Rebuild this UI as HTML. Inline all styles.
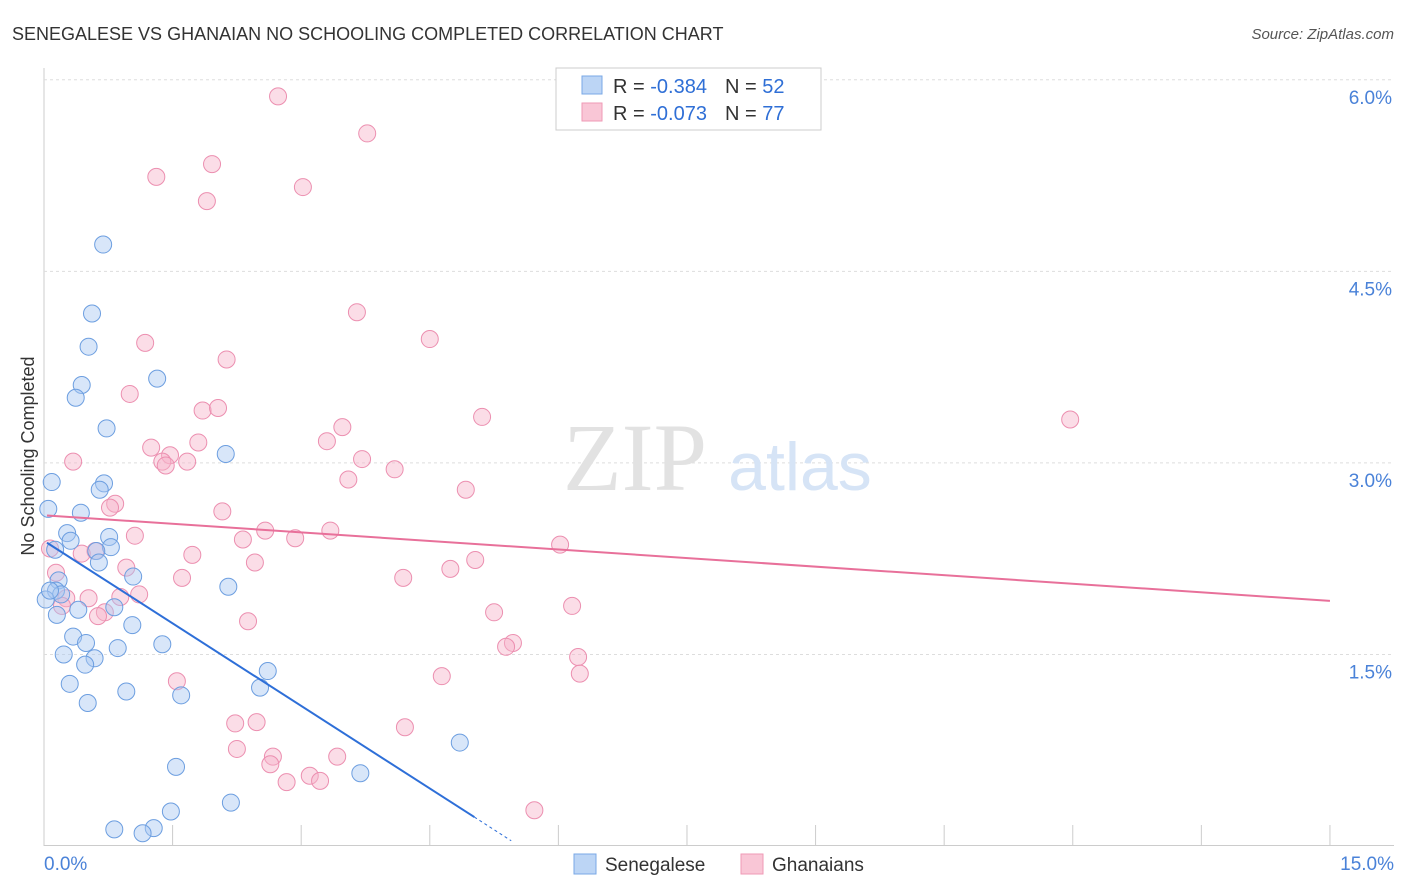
<!DOCTYPE html>
<html><head><meta charset="utf-8"><style>
body{margin:0;background:#fff;font-family:"Liberation Sans",sans-serif;}
svg{display:block}
</style></head><body>
<svg id="chart" width="1406" height="892">
<text x="12" y="40" font-size="18" fill="#333">SENEGALESE VS GHANAIAN NO SCHOOLING COMPLETED CORRELATION CHART</text>
<text x="1394" y="39" font-size="15" fill="#555" font-style="italic" text-anchor="end">Source: ZipAtlas.com</text>
<text transform="translate(34,456) rotate(-90)" font-size="18" fill="#333" text-anchor="middle">No Schooling Completed</text>
<g id="grid"></g>
<g>
<text x="635" y="490" font-size="96" font-family="Liberation Serif,serif" fill="#e2e2e2" text-anchor="middle">ZIP</text>
<text x="800" y="490" font-size="68" fill="#d6e4f6" text-anchor="middle">atlas</text></g>
<g id="marks"></g>
<g>
<rect x="556" y="68" width="265" height="62" fill="#fff" stroke="#ccc"/>
<rect x="582" y="76" width="20" height="18" fill="#bcd5f5" stroke="#7aa8e6"/>
<rect x="582" y="103" width="20" height="18" fill="#f9c6d6" stroke="#ef9ab6"/>
<text x="613" y="93" font-size="20" fill="#333">R = <tspan fill="#2f6fd6">-0.384</tspan><tspan dx="18">N = </tspan><tspan fill="#2f6fd6">52</tspan></text>
<text x="613" y="120" font-size="20" fill="#333">R = <tspan fill="#2f6fd6">-0.073</tspan><tspan dx="18">N = </tspan><tspan fill="#2f6fd6">77</tspan></text>
</g>
<g>
<rect x="574" y="854" width="22" height="20" fill="#bcd5f5" stroke="#7aa8e6"/>
<text x="605" y="871" font-size="19" fill="#333">Senegalese</text>
<rect x="741" y="854" width="22" height="20" fill="#f9c6d6" stroke="#ef9ab6"/>
<text x="772" y="871" font-size="19" fill="#333">Ghanaians</text>
</g>
</svg>
<script>
const blueX=[0.69,0.56,0.52,0.44,1.32,0.37,0.73,2.12,0.09,0.70,0.65,0.05,0.43,0.27,0.31,0.76,0.78,0.13,0.61,0.64,1.04,0.17,0.14,0.20,0.40,0.82,0.15,1.03,0.34,0.49,0.86,1.38,0.23,0.59,0.48,2.61,2.52,0.30,0.96,1.60,0.51,4.85,1.54,3.69,2.18,1.48,0.82,1.28,1.15,2.15,0.02,0.07];
const blueY=[4.71,4.17,3.91,3.61,3.66,3.51,3.27,3.07,2.85,2.84,2.79,2.64,2.61,2.45,2.39,2.42,2.34,2.32,2.31,2.22,2.11,2.08,2.00,1.97,1.85,1.87,1.81,1.73,1.64,1.59,1.55,1.58,1.50,1.47,1.42,1.37,1.24,1.27,1.21,1.18,1.12,0.81,0.62,0.57,0.34,0.27,0.13,0.14,0.10,2.03,1.93,2.00];
const pinkX=[2.73,3.77,1.31,1.96,3.02,1.90,3.65,4.50,1.18,2.13,1.00,1.85,2.03,5.11,11.97,3.48,3.30,1.80,1.25,1.47,1.38,1.67,1.42,0.34,3.71,4.09,3.55,4.92,0.83,0.77,2.08,2.58,3.34,1.06,2.32,2.93,6.02,0.07,0.60,0.44,1.73,5.03,2.46,4.74,0.96,0.14,1.61,4.19,1.11,0.52,0.89,0.26,0.21,6.16,0.71,5.25,0.63,2.38,5.47,5.39,6.23,6.25,4.64,1.55,2.23,2.48,4.21,2.25,2.67,2.64,3.42,3.10,3.22,2.83,5.72];
const pinkY=[5.87,5.58,5.24,5.34,5.16,5.05,4.18,3.97,3.94,3.81,3.54,3.41,3.43,3.36,3.34,3.28,3.17,3.16,3.12,3.06,3.01,3.01,2.98,3.01,3.03,2.95,2.87,2.79,2.68,2.65,2.62,2.47,2.47,2.43,2.40,2.41,2.36,2.33,2.31,2.29,2.28,2.24,2.22,2.17,2.18,2.14,2.10,2.10,1.97,1.94,1.95,1.94,1.88,1.88,1.83,1.83,1.80,1.76,1.59,1.56,1.48,1.35,1.33,1.29,0.96,0.97,0.93,0.76,0.70,0.64,0.70,0.55,0.51,0.50,0.28];
const blueTrend=[2.39,-0.431];
const pinkTrend=[2.59,-0.0447];
const yTicks=[1.5,3.0,4.5,6.0];
const xTicks=[0,1.5,3,4.5,6,7.5,9,10.5,12,13.5,15];
const NS="http://www.w3.org/2000/svg";
const sx=v=>44+v*85.73, sy=v=>846-v*127.7;
function mk(t,a,p){const e=document.createElementNS(NS,t);for(const k in a)e.setAttribute(k,a[k]);p.appendChild(e);return e;}
const grid=document.getElementById('grid'), marks=document.getElementById('marks');
mk('line',{x1:44,y1:68,x2:44,y2:846,stroke:'#ccc'},grid);
mk('line',{x1:44,y1:845.5,x2:1394,y2:845.5,stroke:'#ccc'},grid);
yTicks.forEach(v=>{
 const l=mk('line',{x1:44,x2:1394,y1:sy(v),y2:sy(v),stroke:'#ddd','stroke-dasharray':'3,3'},grid);
 
 
 const t=mk('text',{x:1392,y:sy(v)+24,'font-size':19,fill:'#4a82d8','text-anchor':'end'},grid);
 t.textContent=v.toFixed(1)+'%';
 
 
});
xTicks.forEach((v,i)=>{
 if(i>0){const l=mk('line',{x1:sx(v),x2:sx(v),y1:825,y2:846,stroke:'#ccc'},grid);
 
 }
});
[[0,'start',44],[15,'end',1394]].forEach(([v,a,x])=>{
 const t=mk('text',{x:x,y:870,'font-size':19,fill:'#4a82d8','text-anchor':a},grid);
 t.textContent=v.toFixed(1)+'%';
 
 
});
function pts(X,Y,fill,stroke,name){X.forEach((x,i)=>{
 const c=mk('circle',{cx:sx(x),cy:sy(Y[i]),r:8.5,fill:fill,'fill-opacity':0.45,stroke:stroke,'stroke-width':1},marks);
 
 
});}
pts(pinkX,pinkY,'#f6b3c9','#ec8fb0','ghanaian-point');
pts(blueX,blueY,'#a9c8f2','#6c9ee0','senegalese-point');
const bl=mk('line',{x1:sx(0.035),y1:sy(blueTrend[0]+blueTrend[1]*0.035),x2:sx(5.02),y2:sy(blueTrend[0]+blueTrend[1]*5.02),stroke:'#2e6fd8','stroke-width':2},marks);


const bd=mk('line',{x1:sx(5.02),y1:sy(blueTrend[0]+blueTrend[1]*5.02),x2:sx(5.45),y2:sy(blueTrend[0]+blueTrend[1]*5.45),stroke:'#2e6fd8','stroke-width':1,'stroke-dasharray':'3,3'},marks);


const pl=mk('line',{x1:sx(0.035),y1:sy(pinkTrend[0]+pinkTrend[1]*0.035),x2:sx(15),y2:sy(pinkTrend[0]+pinkTrend[1]*15),stroke:'#e8709a','stroke-width':2},marks);


</script>
</body></html>
